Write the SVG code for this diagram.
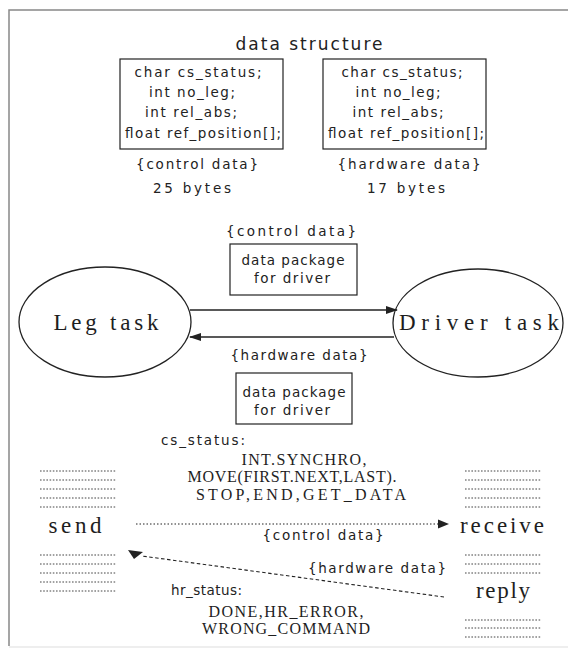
<svg xmlns="http://www.w3.org/2000/svg" width="568" height="649" viewBox="0 0 568 649">
  <style>
    .sans { font-family: "DejaVu Sans", "Liberation Sans", sans-serif; fill: #222; }
    .serif { font-family: "Liberation Serif", "DejaVu Serif", serif; fill: #1e1e1e; }
    .code { font-size: 13.5px; }
    .lbl { font-size: 13.5px; }
    .big { font-size: 23px; }
    .list { font-size: 16px; }
    .box { fill: none; stroke: #222; stroke-width: 1.2; }
    .node { fill: #fff; stroke: #222; stroke-width: 1.3; }
    .frame { stroke: #888; stroke-width: 1.5; fill: none; }
    .rule { stroke: #444; stroke-width: 1; stroke-dasharray: 1.6 1.6; }
    .flow { stroke: #222; stroke-width: 1.3; fill: none; }
    .dotflow { stroke: #222; stroke-width: 1; stroke-dasharray: 1.5 2; fill: none; }
    .dashflow { stroke: #222; stroke-width: 1.1; stroke-dasharray: 3.5 2.5; fill: none; }
  </style>
  <defs>
    <marker id="head" markerWidth="12" markerHeight="8" refX="11" refY="4" orient="auto" markerUnits="userSpaceOnUse">
      <path d="M0,0 L12,4 L0,8 z" fill="#222"/>
    </marker>
  </defs>

  <rect width="568" height="649" fill="#fff"/>

  <!-- page frame -->
  <path class="frame" d="M9,646 V10 H568"/>
  <line x1="9" y1="647" x2="568" y2="647" stroke="#ddd" stroke-width="1"/>

  <!-- data structure header -->
  <g id="title">
    <text class="sans" x="309" y="50" font-size="17" text-anchor="middle" textLength="147" lengthAdjust="spacing">data structure</text>
  </g>

  <g id="control-struct">
    <rect class="box" x="120" y="59" width="163" height="90"/>
    <text class="sans code" x="198" y="77" text-anchor="middle" textLength="127" lengthAdjust="spacing">char cs_status;</text>
    <text class="sans code" x="192" y="97" text-anchor="middle" textLength="86" lengthAdjust="spacing">int no_leg;</text>
    <text class="sans code" x="191" y="117" text-anchor="middle" textLength="92" lengthAdjust="spacing">int rel_abs;</text>
    <text class="sans code" x="203" y="138" text-anchor="middle" textLength="156" lengthAdjust="spacing">float ref_position[];</text>
    <text class="sans lbl" x="197" y="169" text-anchor="middle" textLength="122" lengthAdjust="spacing">{control data}</text>
    <text class="sans lbl" x="192" y="193" text-anchor="middle" textLength="78" lengthAdjust="spacing">25 bytes</text>
  </g>

  <g id="hardware-struct">
    <rect class="box" x="323" y="59" width="163" height="90"/>
    <text class="sans code" x="402" y="77" text-anchor="middle" textLength="121" lengthAdjust="spacing">char cs_status;</text>
    <text class="sans code" x="398" y="97" text-anchor="middle" textLength="85" lengthAdjust="spacing">int no_leg;</text>
    <text class="sans code" x="398" y="117" text-anchor="middle" textLength="91" lengthAdjust="spacing">int rel_abs;</text>
    <text class="sans code" x="406" y="138" text-anchor="middle" textLength="156" lengthAdjust="spacing">float ref_position[];</text>
    <text class="sans lbl" x="409" y="169" text-anchor="middle" textLength="143" lengthAdjust="spacing">{hardware data}</text>
    <text class="sans lbl" x="406" y="193" text-anchor="middle" textLength="78" lengthAdjust="spacing">17 bytes</text>
  </g>

  <!-- task nodes -->
  <g id="leg-task">
    <ellipse class="node" cx="105" cy="322" rx="86" ry="55"/>
    <text class="serif big" x="106" y="330" text-anchor="middle" textLength="105" lengthAdjust="spacing">Leg task</text>
  </g>

  <g id="driver-task">
    <ellipse class="node" cx="478" cy="323" rx="85" ry="54"/>
    <text class="serif big" x="479" y="330" text-anchor="middle" textLength="160" lengthAdjust="spacing">Driver task</text>
  </g>

  <g id="package-out">
    <text class="sans lbl" x="291" y="236" text-anchor="middle" textLength="130" lengthAdjust="spacing">{control data}</text>
    <rect class="box" x="230" y="244" width="127" height="51"/>
    <text class="sans lbl" x="293" y="265" text-anchor="middle" textLength="103" lengthAdjust="spacing">data package</text>
    <text class="sans lbl" x="292" y="283" text-anchor="middle" textLength="76" lengthAdjust="spacing">for driver</text>
  </g>

  <g id="package-back">
    <text class="sans lbl" x="299" y="360" text-anchor="middle" textLength="137" lengthAdjust="spacing">{hardware data}</text>
    <rect class="box" x="236" y="373" width="116" height="51"/>
    <text class="sans lbl" x="294" y="397" text-anchor="middle" textLength="103" lengthAdjust="spacing">data package</text>
    <text class="sans lbl" x="292" y="415" text-anchor="middle" textLength="76" lengthAdjust="spacing">for driver</text>
  </g>

  <!-- message primitives -->
  <g id="send">
    <line class="rule" x1="40" y1="471" x2="116" y2="471"/>
    <line class="rule" x1="40" y1="480" x2="116" y2="480"/>
    <line class="rule" x1="40" y1="489" x2="116" y2="489"/>
    <line class="rule" x1="40" y1="498" x2="116" y2="498"/>
    <line class="rule" x1="40" y1="507" x2="116" y2="507"/>
    <text class="serif big" x="75" y="533" text-anchor="middle" textLength="53" lengthAdjust="spacing">send</text>
    <line class="rule" x1="40" y1="555" x2="116" y2="555"/>
    <line class="rule" x1="40" y1="564" x2="116" y2="564"/>
    <line class="rule" x1="40" y1="573" x2="116" y2="573"/>
    <line class="rule" x1="40" y1="582" x2="116" y2="582"/>
    <line class="rule" x1="40" y1="591" x2="116" y2="591"/>
  </g>

  <g id="receive">
    <line class="rule" x1="465" y1="471" x2="541" y2="471"/>
    <line class="rule" x1="465" y1="480" x2="541" y2="480"/>
    <line class="rule" x1="465" y1="489" x2="541" y2="489"/>
    <line class="rule" x1="465" y1="498" x2="541" y2="498"/>
    <line class="rule" x1="465" y1="507" x2="541" y2="507"/>
    <text class="serif big" x="502" y="533" text-anchor="middle" textLength="84" lengthAdjust="spacing">receive</text>
  </g>

  <g id="reply">
    <line class="rule" x1="465" y1="555" x2="541" y2="555"/>
    <line class="rule" x1="465" y1="564" x2="541" y2="564"/>
    <line class="rule" x1="465" y1="573" x2="541" y2="573"/>
    <text class="serif big" x="503" y="598" text-anchor="middle" textLength="54" lengthAdjust="spacing">reply</text>
    <line class="rule" x1="465" y1="620" x2="541" y2="620"/>
    <line class="rule" x1="465" y1="628" x2="541" y2="628"/>
    <line class="rule" x1="465" y1="637" x2="541" y2="637"/>
  </g>

  <!-- status texts -->
  <g id="cs-status">
    <text class="sans lbl" x="161" y="445" textLength="84" lengthAdjust="spacing">cs_status:</text>
    <text class="serif list" x="304" y="465" text-anchor="middle" textLength="125" lengthAdjust="spacing">INT.SYNCHRO,</text>
    <text class="serif list" x="292" y="482" text-anchor="middle" textLength="209" lengthAdjust="spacing">MOVE(FIRST.NEXT,LAST).</text>
    <text class="serif list" x="301" y="500" text-anchor="middle" textLength="210" lengthAdjust="spacing">STOP,END,GET_DATA</text>
    <text class="sans lbl" x="323" y="540" text-anchor="middle" textLength="121" lengthAdjust="spacing">{control data}</text>
  </g>

  <g id="hr-status">
    <text class="sans lbl" x="446" y="573" text-anchor="end" textLength="138" lengthAdjust="spacing">{hardware data}</text>
    <text class="sans lbl" x="171" y="595" textLength="71" lengthAdjust="spacing">hr_status:</text>
    <text class="serif list" x="286" y="617" text-anchor="middle" textLength="155" lengthAdjust="spacing">DONE,HR_ERROR,</text>
    <text class="serif list" x="286" y="634" text-anchor="middle" textLength="168" lengthAdjust="spacing">WRONG_COMMAND</text>
  </g>

  <!-- connectors -->
  <g id="connectors">
    <line class="flow" x1="190" y1="310" x2="397" y2="310" marker-end="url(#head)"/>
    <line class="flow" x1="394" y1="337" x2="190" y2="337" marker-end="url(#head)"/>
    <line class="dotflow" x1="136" y1="524" x2="439" y2="524"/>
    <path d="M438,519.5 L449,524 L438,528.5 z" fill="#222"/>
    <line class="dashflow" x1="444" y1="597" x2="142" y2="556"/>
    <path d="M128,550 L143,552 L134,559 z" fill="#222"/>
  </g>
</svg>
